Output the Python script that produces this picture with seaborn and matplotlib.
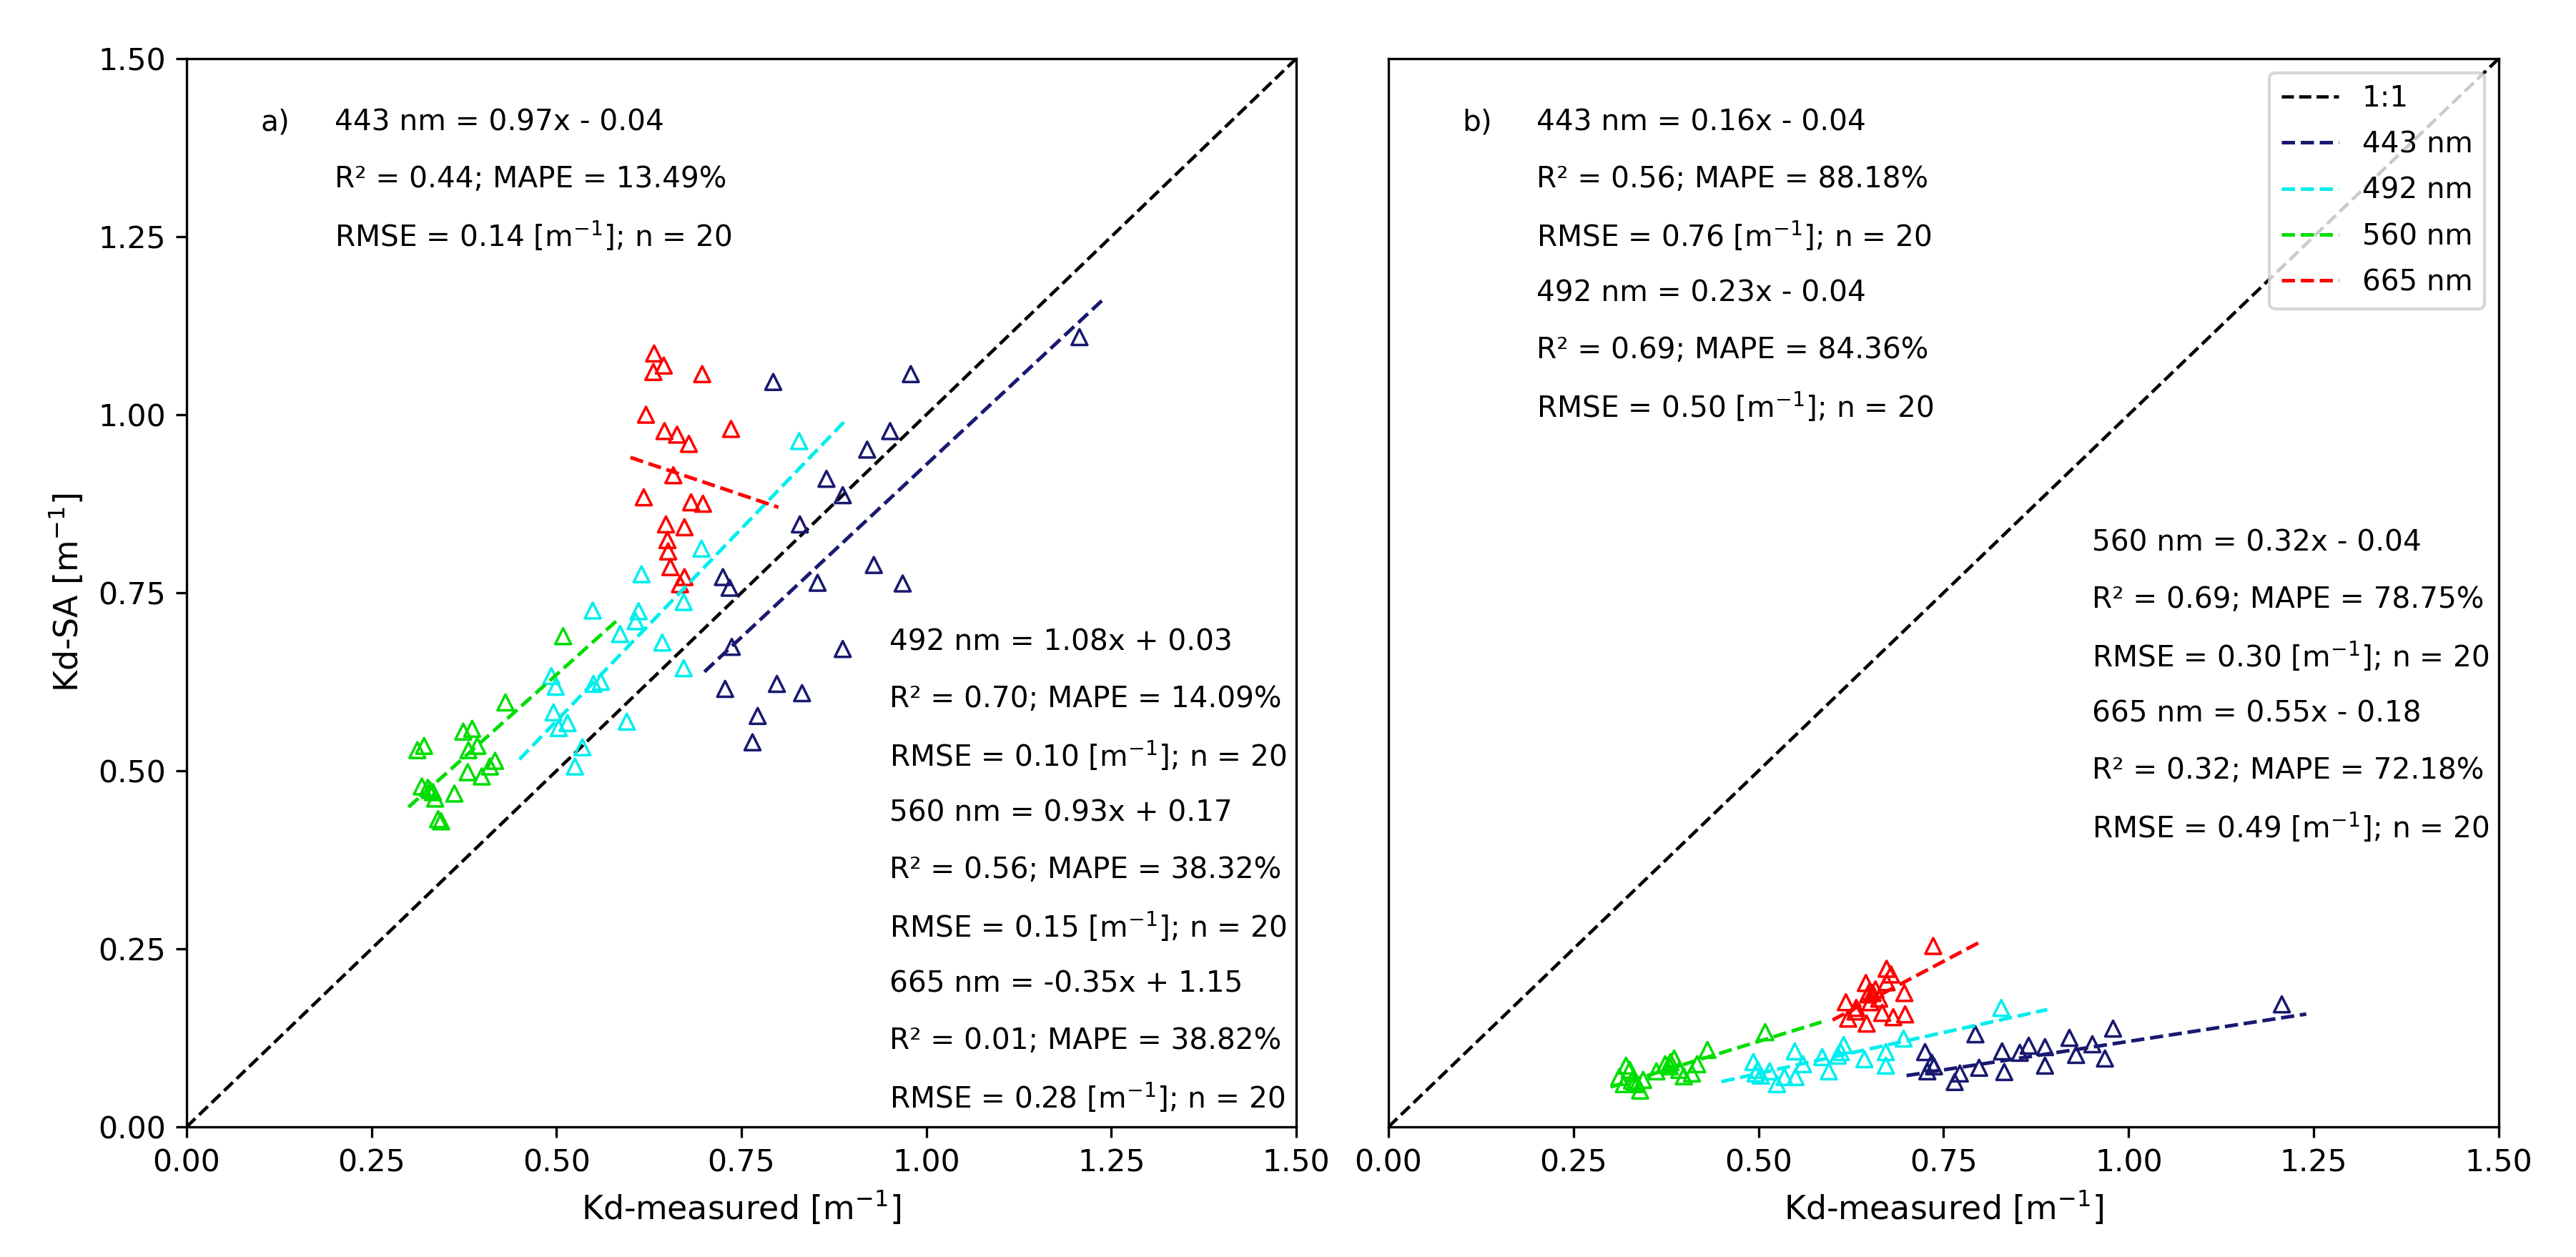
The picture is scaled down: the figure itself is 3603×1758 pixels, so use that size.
import numpy as np
import pandas as pd
import matplotlib
matplotlib.use("Agg")
import matplotlib.pyplot as plt
import seaborn as sns

# ---------------- data ----------------
bands = ["443 nm", "492 nm", "560 nm", "665 nm"]
colors = ["midnightblue", "#00eeee", "#00dd00", "red"]

x443 = [0.793, 0.979, 0.951, 0.920, 0.865, 0.887, 0.829, 0.725, 0.734, 0.853,
        0.929, 0.968, 0.737, 0.887, 0.728, 0.798, 0.832, 0.772, 0.765, 1.207]
ya443 = [1.046, 1.057, 0.977, 0.951, 0.910, 0.887, 0.846, 0.772, 0.757, 0.764,
         0.789, 0.763, 0.674, 0.671, 0.615, 0.622, 0.609, 0.577, 0.540, 1.109]
yb443 = [0.130, 0.138, 0.116, 0.125, 0.114, 0.112, 0.106, 0.105, 0.090, 0.104,
         0.101, 0.096, 0.085, 0.086, 0.078, 0.083, 0.077, 0.075, 0.063, 0.172]

x492 = [0.828, 0.696, 0.615, 0.672, 0.549, 0.611, 0.607, 0.586, 0.643, 0.672,
        0.493, 0.499, 0.560, 0.550, 0.595, 0.496, 0.503, 0.515, 0.535, 0.525]
ya492 = [0.963, 0.812, 0.776, 0.737, 0.725, 0.724, 0.710, 0.692, 0.680, 0.644,
         0.633, 0.618, 0.625, 0.622, 0.569, 0.582, 0.560, 0.567, 0.533, 0.506]
yb492 = [0.167, 0.124, 0.115, 0.105, 0.106, 0.105, 0.100, 0.098, 0.095, 0.086,
         0.091, 0.080, 0.088, 0.070, 0.078, 0.075, 0.072, 0.078, 0.070, 0.060]

x560 = [0.509, 0.431, 0.374, 0.386, 0.312, 0.321, 0.381, 0.393, 0.380, 0.417,
        0.410, 0.399, 0.318, 0.329, 0.336, 0.362, 0.340, 0.344, 0.326, 0.333]
ya560 = [0.689, 0.596, 0.555, 0.559, 0.529, 0.535, 0.529, 0.535, 0.498, 0.514,
         0.506, 0.492, 0.478, 0.473, 0.461, 0.468, 0.432, 0.429, 0.476, 0.470]
yb560 = [0.133, 0.108, 0.088, 0.096, 0.070, 0.086, 0.091, 0.080, 0.085, 0.088,
         0.075, 0.071, 0.060, 0.065, 0.060, 0.078, 0.051, 0.066, 0.080, 0.063]

x665 = [0.632, 0.645, 0.631, 0.697, 0.621, 0.646, 0.663, 0.679, 0.736, 0.658,
        0.618, 0.682, 0.698, 0.648, 0.673, 0.650, 0.651, 0.654, 0.673, 0.667]
ya665 = [1.086, 1.069, 1.060, 1.057, 1.000, 0.977, 0.972, 0.959, 0.980, 0.915,
         0.884, 0.877, 0.875, 0.846, 0.842, 0.824, 0.808, 0.786, 0.772, 0.762]
yb665 = [0.167, 0.202, 0.162, 0.188, 0.152, 0.145, 0.180, 0.214, 0.254, 0.193,
         0.175, 0.154, 0.158, 0.186, 0.222, 0.190, 0.175, 0.188, 0.203, 0.160]

# regression lines (slope, intercept) and x-extent
slopes_a = [0.97, 1.08, 0.93, -0.35]
intercepts_a = [-0.04, 0.03, 0.17, 1.15]
slopes_b = [0.16, 0.23, 0.32, 0.55]
intercepts_b = [-0.04, -0.04, -0.04, -0.18]
fit_xmin = [0.70, 0.45, 0.30, 0.60]
fit_xmax = [1.24, 0.89, 0.585, 0.80]

stats_a = [
    ["443 nm = 0.97x - 0.04", "R\u00b2 = 0.44; MAPE = 13.49%", "RMSE = 0.14 [m$^{-1}$]; n = 20"],
    ["492 nm = 1.08x + 0.03", "R\u00b2 = 0.70; MAPE = 14.09%", "RMSE = 0.10 [m$^{-1}$]; n = 20"],
    ["560 nm = 0.93x + 0.17", "R\u00b2 = 0.56; MAPE = 38.32%", "RMSE = 0.15 [m$^{-1}$]; n = 20"],
    ["665 nm = -0.35x + 1.15", "R\u00b2 = 0.01; MAPE = 38.82%", "RMSE = 0.28 [m$^{-1}$]; n = 20"],
]
stats_b = [
    ["443 nm = 0.16x - 0.04", "R\u00b2 = 0.56; MAPE = 88.18%", "RMSE = 0.76 [m$^{-1}$]; n = 20"],
    ["492 nm = 0.23x - 0.04", "R\u00b2 = 0.69; MAPE = 84.36%", "RMSE = 0.50 [m$^{-1}$]; n = 20"],
    ["560 nm = 0.32x - 0.04", "R\u00b2 = 0.69; MAPE = 78.75%", "RMSE = 0.30 [m$^{-1}$]; n = 20"],
    ["665 nm = 0.55x - 0.18", "R\u00b2 = 0.32; MAPE = 72.18%", "RMSE = 0.49 [m$^{-1}$]; n = 20"],
]
ticks = [0.0, 0.25, 0.5, 0.75, 1.0, 1.25, 1.5]

xs = [x443, x492, x560, x665]
ya = [ya443, ya492, ya560, ya665]
yb = [yb443, yb492, yb560, yb665]

# ---------------- figure ----------------
plt.rcParams["font.family"] = ["DejaVu Sans"]
plt.rcParams["mathtext.default"] = "regular"

fig = plt.figure(figsize=(3603 / 300, 1758 / 300), dpi=300)
axA = fig.add_axes([0.07244, 0.10353, 0.43075, 0.84983])
axB = fig.add_axes([0.5390, 0.10353, 0.4310, 0.84983])

LW = 1.2
TXT = 9.75


def draw_panel(ax, yvals, slopes, intercepts):
    one = pd.DataFrame({"x": [0.0, 1.5], "y": [0.0, 1.5]})
    sns.lineplot(data=one, x="x", y="y", ax=ax, color="black", linestyle="--",
                 linewidth=1.1, label="1:1")
    for i in range(4):
        df = pd.DataFrame({"x": xs[i], "y": yvals[i]})
        sns.scatterplot(data=df, x="x", y="y", ax=ax, marker="^", s=28,
                        facecolor="none", edgecolor=colors[i], linewidth=0.85,
                        zorder=3)
    for i in range(4):
        fx = np.array([fit_xmin[i], fit_xmax[i]])
        fdf = pd.DataFrame({"x": fx, "y": slopes[i] * fx + intercepts[i]})
        sns.lineplot(data=fdf, x="x", y="y", ax=ax, color=colors[i],
                     linestyle="--", linewidth=LW, label=bands[i], zorder=4)
    ax.set_xlim(0, 1.5)
    ax.set_ylim(0, 1.5)
    ax.set_xticks(ticks)
    ax.set_xticklabels([f"{t:.2f}" for t in ticks], fontsize=10.2)
    ax.set_xlabel("Kd-measured [$\\mathrm{m}^{-1}$]", fontsize=11)
    for sp in ax.spines.values():
        sp.set_color("black")
        sp.set_linewidth(0.8)


draw_panel(axA, ya, slopes_a, intercepts_a)
draw_panel(axB, yb, slopes_b, intercepts_b)

axA.set_yticks(ticks)
axA.set_yticklabels([f"{t:.2f}" for t in ticks], fontsize=10.2)
axA.set_ylabel("Kd-SA [$\\mathrm{m}^{-1}$]", fontsize=11)
axB.set_yticks([])
axB.set_ylabel("")

if axA.get_legend() is not None:
    axA.get_legend().remove()
axB.legend(loc="upper right", fontsize=9.7, labelspacing=0.6)

# annotations panel a
axA.text(0.10, 1.41, "a)", fontsize=TXT, va="center", ha="left")
for j, s in enumerate(stats_a[0]):
    axA.text(0.20, 1.41 - 0.08 * j, s, fontsize=TXT, va="center", ha="left")
lines_a = stats_a[1] + stats_a[2] + stats_a[3]
for j, s in enumerate(lines_a):
    axA.text(0.95, 0.68 - 0.08 * j, s, fontsize=TXT, va="center", ha="left")

# annotations panel b
axB.text(0.10, 1.41, "b)", fontsize=TXT, va="center", ha="left")
lines_b1 = stats_b[0] + stats_b[1]
for j, s in enumerate(lines_b1):
    axB.text(0.20, 1.41 - 0.08 * j, s, fontsize=TXT, va="center", ha="left")
lines_b2 = stats_b[2] + stats_b[3]
for j, s in enumerate(lines_b2):
    axB.text(0.95, 0.82 - 0.08 * j, s, fontsize=TXT, va="center", ha="left")

fig.savefig("out.png", dpi=300, facecolor="white")
